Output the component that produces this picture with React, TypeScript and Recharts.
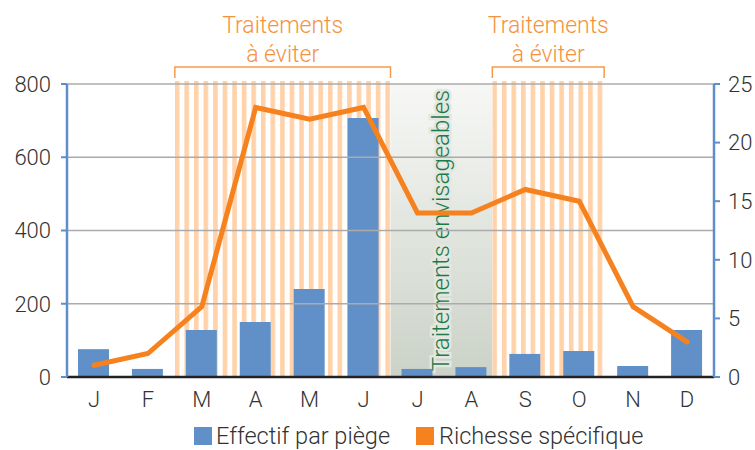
import React from 'react';
import { ComposedChart, Bar, Line, XAxis, YAxis, ReferenceArea, ReferenceLine } from 'recharts';

const months = ['J', 'F', 'M', 'A', 'M', 'J', 'J', 'A', 'S', 'O', 'N', 'D'];
const effectif = [76, 22, 128, 150, 240, 707, 22, 27, 63, 71, 30, 128];
const richesse = [1, 2, 6, 23, 22, 23, 14, 14, 16, 15, 6, 3];
const leftTicks = [0, 200, 400, 600, 800];
const rightTicks = [0, 5, 10, 15, 20, 25];
const gridValues = [200, 400, 600, 800];
// month indexes (first, last) of each period
const avoidPeriods = [
  [2, 5],
  [8, 9],
];
const envisagePeriod = [6, 7];
const avoidLabel = ['Traitements', 'à éviter'];
const envisageLabel = 'Traitements envisageables';
const seriesNames = ['Effectif par piège', 'Richesse spécifique'];

const data = months.map((m, i) => ({ i, m, e: effectif[i], r: richesse[i] }));

const FONT = 'Roboto, "Liberation Sans", sans-serif';
const ORANGE = '#f5821f';
const BLUE = '#6190c8';
const AXIS_BLUE = '#5f8fcb';
const TEXT = '#333333';

const StripeShape = (props: any) => {
  const { y, height, pid } = props;
  const padL = props.padL || 0;
  const padR = props.padR || 0;
  const x = props.x - padL;
  const width = props.width + padL + padR;
  const by = y - 17;
  return (
    <g>
      <defs>
        <pattern id={pid} patternUnits="userSpaceOnUse" x={x} y={0} width={9.57} height={10}>
          <rect x={0} y={0} width={4.6} height={10} fill="#ffd2aa" />
        </pattern>
      </defs>
      <rect x={x} y={y - 3} width={width} height={height + 3} fill={`url(#${pid})`} />
      <path
        d={`M${x},${y - 6} L${x},${by} L${x + width},${by} L${x + width},${y - 6}`}
        fill="none"
        stroke="#f59a4c"
        strokeWidth={1.5}
      />
      <text
        x={x + width / 2}
        y={y - 51}
        textAnchor="middle"
        fontFamily={FONT}
        fontWeight={300}
        fontSize={23}
        fill="#f39340"
      >
        {avoidLabel[0]}
      </text>
      <text
        x={x + width / 2}
        y={y - 22}
        textAnchor="middle"
        fontFamily={FONT}
        fontWeight={300}
        fontSize={23}
        fill="#f39340"
      >
        {avoidLabel[1]}
      </text>
    </g>
  );
};

const GreenShape = (props: any) => {
  const { x, y, width, height } = props;
  const padR = props.padR || 0;
  return (
    <g>
      <defs>
        <linearGradient id="greenGrad" x1="0" y1="0" x2="0" y2="1">
          <stop offset="0%" stopColor="#f7f8f6" />
          <stop offset="100%" stopColor="#cbd2c7" />
        </linearGradient>
      </defs>
      <rect x={x} y={y} width={width + padR} height={height} fill="url(#greenGrad)" />
    </g>
  );
};

const GreenText = (props: any) => {
  const { x, y, width, height } = props;
  const padR = props.padR || 0;
  const cx = x + (width + padR) / 2;
  const cy = y + height / 2;
  return (
    <text
      x={cx}
      y={cy}
      transform={`rotate(-90 ${cx} ${cy})`}
      textAnchor="middle"
      dominantBaseline="central"
      fontFamily={FONT}
      fontWeight={300}
      fontSize={24}
      fill="#1d7a4b"
      stroke="#e3e7e0"
      strokeWidth={5}
      paintOrder="stroke"
    >
      {envisageLabel}
    </text>
  );
};

const tickStyle = { fontFamily: FONT, fontWeight: 300, fontSize: 22, fill: TEXT };

export default function App() {
  return (
    <div style={{ position: 'absolute', left: 0, top: 0, width: 755, height: 450, background: '#fff' }}>
      <ComposedChart width={755} height={450} data={data} margin={{ top: 84, right: 0, left: 0, bottom: 43 }}>
        <XAxis
          dataKey="i"
          tickFormatter={(v: number) => months[v]}
          axisLine={{ stroke: '#222', strokeWidth: 2.5 }}
          tickLine={false}
          tickMargin={8}
          height={30}
          tick={tickStyle}
          interval={0}
        />
        <YAxis
          yAxisId="left"
          domain={[0, 800]}
          ticks={leftTicks}
          width={67}
          axisLine={{ stroke: AXIS_BLUE, strokeWidth: 2.5 }}
          tickLine={{ stroke: AXIS_BLUE, strokeWidth: 2 }}
          tickSize={6}
          tickMargin={10}
          tick={tickStyle}
        />
        <YAxis
          yAxisId="right"
          orientation="right"
          domain={[0, 25]}
          ticks={rightTicks}
          width={41}
          axisLine={{ stroke: AXIS_BLUE, strokeWidth: 2.5 }}
          tickLine={{ stroke: AXIS_BLUE, strokeWidth: 2 }}
          tickSize={6}
          tickMargin={8}
          tick={{ ...tickStyle, textAnchor: 'start' }}
        />
        <ReferenceArea
          yAxisId="left"
          x1={envisagePeriod[0]}
          x2={envisagePeriod[1]}
          y1={0}
          y2={800}
          ifOverflow="visible"
          shape={(p: any) => <GreenShape {...p} padR={-6} />}
        />
        {avoidPeriods.map((p, k) => (
          <ReferenceArea
            key={k}
            yAxisId="left"
            x1={p[0]}
            x2={p[1]}
            y1={0}
            y2={800}
            ifOverflow="visible"
            shape={(sp: any) => (
              <StripeShape {...sp} pid={`stripes${k}`} padL={k === 1 ? 6 : 0} padR={k === 1 ? -2 : 0} />
            )}
          />
        ))}
        {gridValues.map((v) => (
          <ReferenceLine key={v} yAxisId="left" y={v} stroke="#ababab" strokeWidth={1.5} />
        ))}
        <Bar yAxisId="left" dataKey="e" fill={BLUE} barSize={31} isAnimationActive={false} />
        <Line
          yAxisId="right"
          dataKey="r"
          stroke={ORANGE}
          strokeWidth={5}
          dot={false}
          strokeLinecap="round"
          isAnimationActive={false}
        />
        <ReferenceArea
          yAxisId="left"
          x1={envisagePeriod[0]}
          x2={envisagePeriod[1]}
          y1={0}
          y2={800}
          ifOverflow="visible"
          shape={(p: any) => <GreenText {...p} padR={-6} />}
        />
      </ComposedChart>
      <div
        style={{
          position: 'absolute',
          top: 425,
          left: 194,
          display: 'flex',
          alignItems: 'center',
          fontFamily: FONT,
          fontWeight: 300,
          fontSize: 23.5,
          color: TEXT,
          whiteSpace: 'nowrap',
          lineHeight: '22px',
        }}
      >
        <span style={{ display: 'inline-block', width: 18, height: 18, background: BLUE, marginRight: 4 }} />
        <span style={{ marginRight: 26 }}>{seriesNames[0]}</span>
        <span style={{ display: 'inline-block', width: 18, height: 18, background: ORANGE, marginRight: 5 }} />
        <span>{seriesNames[1]}</span>
      </div>
    </div>
  );
}
